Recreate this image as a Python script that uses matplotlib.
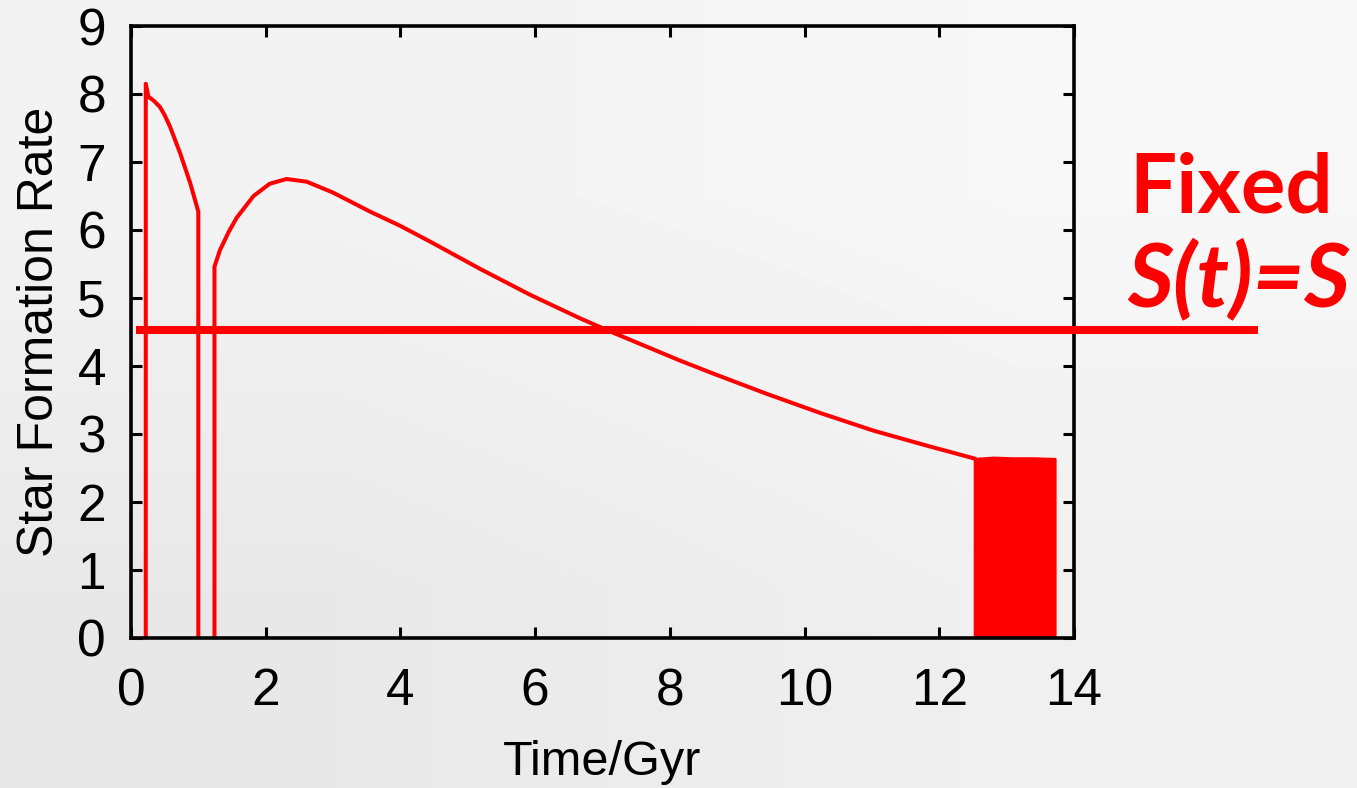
import numpy as np
import matplotlib.pyplot as plt

# early burst, cut off at ~1 Gyr
t_early = [0.22, 0.22, 0.26, 0.34, 0.43, 0.50, 0.58, 0.73, 0.88, 1.0, 1.0]
sfr_early = [0.0, 8.15, 7.96, 7.90, 7.81, 7.69, 7.52, 7.13, 6.69, 6.27, 0.0]

# main star formation history
t_main = [1.24, 1.24, 1.32, 1.45, 1.57, 1.82, 2.06, 2.31, 2.61, 3.0, 3.55,
          4.0, 4.44, 5.18, 5.92, 6.67, 7.11, 8.15, 8.64, 9.44, 10.23,
          11.02, 11.81, 12.52]
sfr_main = [0.0, 5.46, 5.70, 5.97, 6.18, 6.50, 6.68, 6.75, 6.71, 6.55, 6.27,
            6.06, 5.83, 5.43, 5.05, 4.70, 4.51, 4.08, 3.89, 3.59, 3.31,
            3.05, 2.83, 2.64]

# late oscillating phase (drawn as a filled block)
t_late = [12.52, 12.8, 13.1, 13.4, 13.72]
sfr_late = [2.64, 2.66, 2.65, 2.65, 2.64]

sfr_fixed = 4.53
fixed_range = [0.07, 16.73]

fig = plt.figure(figsize=(13.57, 7.88), dpi=100)

# soft grey backdrop, lighter towards the top right
bg = fig.add_axes([0, 0, 1, 1], zorder=-10)
bg.imshow(np.array([[0.95, 0.97], [0.91, 0.94]]), cmap='gray', vmin=0, vmax=1,
          interpolation='bilinear', aspect='auto', extent=[0, 1, 0, 1])
bg.set_axis_off()

ax = fig.add_axes([0.0965, 0.1904, 0.6949, 0.7766])
ax.set_facecolor('none')

red = '#ff0000'
ax.plot(t_early, sfr_early, color=red, lw=2.9, solid_joinstyle='round')
ax.plot(t_main, sfr_main, color=red, lw=2.9, solid_joinstyle='round')
ax.fill_between(t_late, 0, sfr_late, color=red, lw=1.5, edgecolor=red)
ax.plot(fixed_range, [sfr_fixed, sfr_fixed], color=red, lw=5.8,
        clip_on=False, solid_capstyle='butt', zorder=5)

ax.set_xlim(0, 14)
ax.set_ylim(0, 9)
ax.set_xticks(range(0, 15, 2))
ax.set_yticks(range(0, 10))

for side in ax.spines.values():
    side.set_linewidth(2.6)
ax.tick_params(direction='in', length=8, width=2.2, top=True, right=True,
               labelsize=37, pad=18)
ax.tick_params(axis='x', pad=21)

font = 'Liberation Sans'
for lab in ax.get_xticklabels() + ax.get_yticklabels():
    lab.set_family(font)
ax.set_xlabel('Time/Gyr', family=font, fontsize=35, labelpad=17)
ax.set_ylabel('Star Formation Rate', family=font, fontsize=36, labelpad=10)

fig.text(0.982, 0.73, 'Fixed', color=red, family='Lato', weight='bold',
         fontsize=60, ha='right', va='baseline')
fig.text(0.995, 0.61, 'S(t)=S', color=red, family='Lato', weight='bold',
         style='italic', fontsize=64, ha='right', va='baseline')

fig.savefig('out.png', dpi=100)
